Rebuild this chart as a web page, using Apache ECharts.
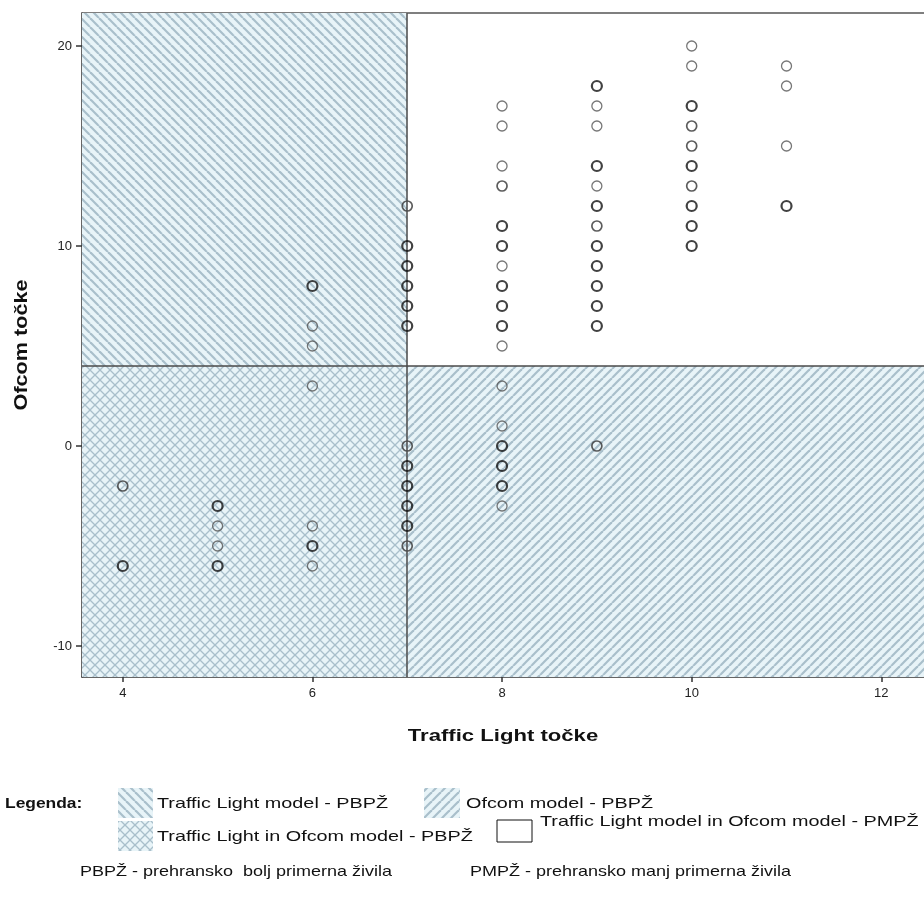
<!DOCTYPE html>
<html>
<head>
<meta charset="UTF-8">
<title>Traffic Light / Ofcom</title>
<script src="https://cdn.jsdelivr.net/npm/echarts@6/dist/echarts.min.js"></script>
<style>
  html, body { margin: 0; padding: 0; background: #fff; }
  #chart { width: 924px; height: 909px; }
</style>
</head>
<body>
<div id="chart"></div>
<script>
// --- podatki ---
var xTicks = [4, 6, 8, 10, 12];
var yTicks = [-10, 0, 10, 20];
var xRange = [3.57, 12.45];
var yRange = [-11.55, 21.65];
var tlCut = 7;      // Traffic Light meja
var ofcomCut = 4;   // Ofcom meja

// posamezne točke (svetle)
var pointsOnce = [
  [5,-4],[5,-5],
  [6,6],[6,5],[6,3],[6,-4],[6,-6],
  [8,17],[8,16],[8,14],[8,9],[8,5],[8,3],[8,1],[8,-3],
  [9,17],[9,16],[9,13],
  [10,20],[10,19],
  [11,19],[11,18],[11,15]
];
// dve prekrivajoči se točki
var pointsTwice = [
  [4,-2],
  [7,12],[7,0],[7,-5],
  [8,13],
  [9,11],[9,0],
  [10,16],[10,15],[10,13]
];
// več prekrivajočih se točk (temne)
var pointsMany = [
  [4,-6],
  [5,-3],[5,-6],
  [6,8],[6,-5],
  [7,10],[7,9],[7,8],[7,7],[7,6],[7,-1],[7,-2],[7,-3],[7,-4],
  [8,11],[8,10],[8,8],[8,7],[8,6],[8,0],[8,-1],[8,-2],
  [9,18],[9,14],[9,12],[9,10],[9,9],[9,8],[9,7],[9,6],
  [10,17],[10,14],[10,12],[10,11],[10,10],
  [11,12]
];

var legendItems = [
  'Traffic Light model - PBPŽ',
  'Ofcom model - PBPŽ',
  'Traffic Light in Ofcom model - PBPŽ',
  'Traffic Light model in Ofcom model - PMPŽ'
];

// --- vzorci šrafure ---
var bgColor = '#e8f4f8';
var hatchColor = '#a9bfcb';

function makeHatch(dir, size, width) {
  var c = document.createElement('canvas');
  c.width = size; c.height = size;
  var ctx = c.getContext('2d');
  ctx.fillStyle = bgColor;
  ctx.fillRect(0, 0, size, size);
  ctx.strokeStyle = hatchColor;
  ctx.lineWidth = width;
  for (var k = -size; k <= size; k += size) {
    if (dir === 'back' || dir === 'cross') {
      ctx.beginPath(); ctx.moveTo(k, 0); ctx.lineTo(k + size, size); ctx.stroke();
    }
    if (dir === 'fwd' || dir === 'cross') {
      ctx.beginPath(); ctx.moveTo(k + size, 0); ctx.lineTo(k, size); ctx.stroke();
    }
  }
  return { image: c, repeat: 'repeat' };
}

var patBack = makeHatch('back', 9, 2.2);
var patFwd = makeHatch('fwd', 9, 2.2);
var patCross = makeHatch('cross', 10, 1.3);

var font = '"Liberation Sans", Arial, sans-serif';
// besedilo, raztegnjeno vodoravno (kot v izvirni sliki)
function txt(x, y, s, f, sx, extra) {
  var st = { text: s, font: f + ' ' + font, fill: '#111', verticalAlign: 'middle' };
  for (var k in (extra || {})) st[k] = extra[k];
  return { type: 'text', x: x, y: y, scaleX: sx || 1, style: st };
}

var myChart = echarts.init(document.getElementById('chart'), null, { renderer: 'canvas' });

var option = {
  backgroundColor: '#fff',
  animation: false,
  grid: { left: 82, right: -2, top: 13, bottom: 232 },
  xAxis: [
    {
      type: 'value',
      min: xRange[0], max: xRange[1],
      axisLine: { show: true, onZero: false, lineStyle: { color: '#333', width: 1.5 } },
      axisTick: { show: true, length: 5, lineStyle: { color: '#333', width: 1.5 }, customValues: xTicks },
      axisLabel: { color: '#222', fontSize: 13, fontFamily: font, margin: 10, customValues: xTicks },
      splitLine: { show: false }
    },
    {
      type: 'value', position: 'top',
      min: xRange[0], max: xRange[1],
      axisLine: { show: true, onZero: false, lineStyle: { color: '#555', width: 1.5 } },
      axisTick: { show: false }, axisLabel: { show: false }, splitLine: { show: false }
    }
  ],
  yAxis: {
    type: 'value',
    min: yRange[0], max: yRange[1],
    axisLine: { show: true, onZero: false, lineStyle: { color: '#333', width: 1.5 } },
    axisTick: { show: true, length: 6, lineStyle: { color: '#333', width: 1.5 }, customValues: yTicks },
    axisLabel: { color: '#222', fontSize: 13, fontFamily: font, margin: 10, customValues: yTicks },
    splitLine: { show: false }
  },
  series: [
    {
      name: 'podrocja',
      type: 'scatter',
      data: [],
      z: 1,
      silent: true,
      markArea: {
        silent: true,
        label: { show: false },
        data: [
          [{ xAxis: xRange[0], yAxis: yRange[1], itemStyle: { color: patBack } }, { xAxis: tlCut, yAxis: ofcomCut }],
          [{ xAxis: tlCut, yAxis: ofcomCut, itemStyle: { color: patFwd } }, { xAxis: xRange[1], yAxis: yRange[0] }],
          [{ xAxis: xRange[0], yAxis: ofcomCut, itemStyle: { color: patCross } }, { xAxis: tlCut, yAxis: yRange[0] }]
        ]
      },
      markLine: {
        silent: true,
        symbol: 'none',
        label: { show: false },
        lineStyle: { color: '#4a4a4a', width: 1.5, type: 'solid' },
        data: [{ xAxis: tlCut }, { yAxis: ofcomCut }]
      }
    },
    {
      name: 'once', type: 'scatter', z: 3, data: pointsOnce,
      symbol: 'circle', symbolSize: 10,
      itemStyle: { color: 'rgba(0,0,0,0)', borderColor: '#555', borderWidth: 1.3 }
    },
    {
      name: 'twice', type: 'scatter', z: 4, data: pointsTwice,
      symbol: 'circle', symbolSize: 10,
      itemStyle: { color: 'rgba(0,0,0,0)', borderColor: '#333', borderWidth: 1.7 }
    },
    {
      name: 'many', type: 'scatter', z: 5, data: pointsMany,
      symbol: 'circle', symbolSize: 10,
      itemStyle: { color: 'rgba(0,0,0,0)', borderColor: '#111', borderWidth: 2.2 }
    }
  ],
  graphic: [
    txt(503, 736, 'Traffic Light točke', 'bold 17px', 1.3, { align: 'center' }),
    { type: 'text', x: 13, y: 345, rotation: Math.PI / 2, scaleX: 1.2,
      style: { text: 'Ofcom točke', font: 'bold 18px ' + font, fill: '#111', align: 'center', verticalAlign: 'top' } },

    txt(5, 804, 'Legenda:', 'bold 15px', 1.16),
    { type: 'rect', shape: { x: 118, y: 788, width: 35, height: 30 }, style: { fill: patBack } },
    txt(157, 804, legendItems[0], '15px', 1.32),
    { type: 'rect', shape: { x: 424, y: 788, width: 36, height: 30 }, style: { fill: patFwd } },
    txt(466, 804, legendItems[1], '15px', 1.32),
    { type: 'rect', shape: { x: 118, y: 821, width: 35, height: 30 }, style: { fill: patCross } },
    txt(157, 837, legendItems[2], '15px', 1.32),
    { type: 'rect', shape: { x: 497, y: 820, width: 35, height: 22 }, style: { fill: '#fff', stroke: '#111', lineWidth: 1 } },
    txt(540, 822, legendItems[3], '15px', 1.32),

    txt(80, 872, 'PBPŽ - prehransko  bolj primerna živila', '15px', 1.2),
    txt(470, 872, 'PMPŽ - prehransko manj primerna živila', '15px', 1.2)
  ]
};

myChart.setOption(option);
</script>
</body>
</html>
